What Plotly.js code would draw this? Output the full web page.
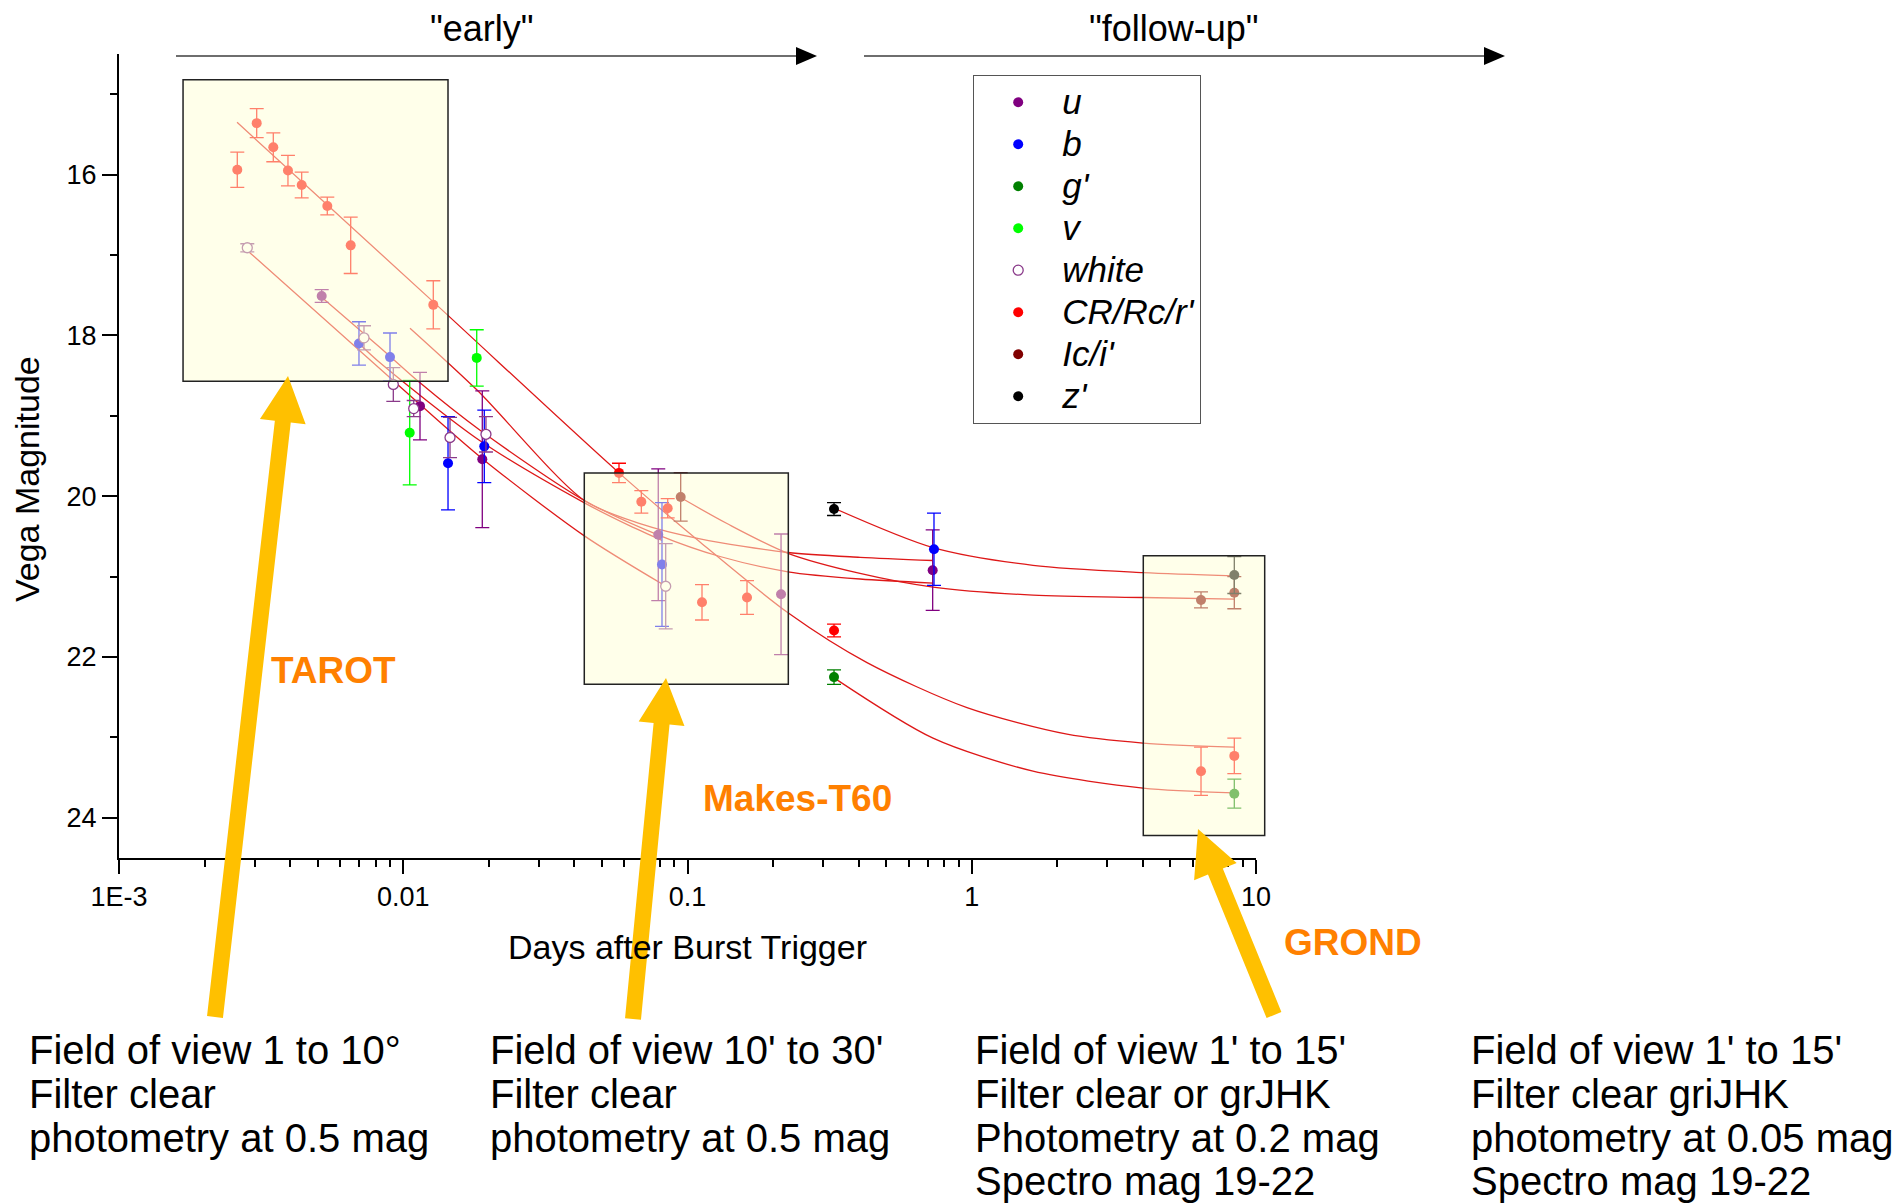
<!DOCTYPE html>
<html>
<head>
<meta charset="utf-8">
<script src="https://cdn.plot.ly/plotly-3.0.1.min.js"></script>
<style>
html,body{margin:0;padding:0;background:#ffffff;}
#chart{width:1903px;height:1203px;}
</style>
</head>
<body>
<div id="chart"></div>
<script>
// ---------------- DATA (days after trigger, Vega magnitude, 1-sigma error) ----------------
const u_t   = [0.005165, 0.011453, 0.018970, 0.07891, 0.21335, 0.72873];
const u_mag = [17.51, 18.88, 19.54, 20.48, 21.22, 20.92];
const u_err = [0.08, 0.42, 0.85, 0.82, 0.75, 0.50];

const b_t   = [0.006986, 0.008982, 0.014371, 0.019279, 0.08133, 0.73649];
const b_mag = [18.10, 18.27, 19.59, 19.38, 20.85, 20.66];
const b_err = [0.27, 0.30, 0.58, 0.45, 0.77, 0.45];

const g_t   = [0.32770, 8.3889];
const g_mag = [22.25, 23.70];
const g_err = [0.09, 0.18];

const v_t   = [0.010537, 0.018134];
const v_mag = [19.21, 18.28];
const v_err = [0.65, 0.35];

const w_t   = [0.002827, 0.007276, 0.009226, 0.010884, 0.014606, 0.019542, 0.08381];
const w_mag = [16.91, 18.03, 18.61, 18.91, 19.27, 19.23, 21.12];
const w_err = [0.05, 0.15, 0.21, 0.10, 0.25, 0.22, 0.53];

const r_t   = [0.002607, 0.003051, 0.003490, 0.003930, 0.004392, 0.005405, 0.006533, 0.012755,
               0.05741, 0.06880, 0.08518, 0.11246, 0.16194, 0.32770, 6.4054, 8.3889];
const r_mag = [15.94, 15.36, 15.66, 15.95, 16.13, 16.39, 16.88, 17.62,
               19.71, 20.07, 20.15, 21.32, 21.26, 21.67, 23.42, 23.23];
const r_err = [0.22, 0.18, 0.18, 0.19, 0.16, 0.11, 0.35, 0.30,
               0.12, 0.14, 0.12, 0.22, 0.21, 0.08, 0.30, 0.22];

const i_t   = [0.09464, 6.4054, 8.3889];
const i_mag = [20.01, 21.29, 21.20];
const i_err = [0.30, 0.10, 0.20];

const z_t   = [0.32770, 8.3889];
const z_mag = [20.16, 20.98];
const z_err = [0.08, 0.23];

// fitted light-curve models
const fitR_t = [0.002602, 0.012728, 0.057415, 0.11065, 0.22570, 0.42808, 0.96225, 2.1634, 4.0046, 8.3693];
const fitR_m = [15.35, 17.58, 19.71, 20.57, 21.45, 22.07, 22.63, 22.96, 23.07, 23.12];
const fitV_t = [0.010562, 0.018180, 0.043237, 0.068060, 0.11065, 0.22570, 0.40449, 0.73072];
const fitV_m = [17.91, 18.68, 20.05, 20.34, 20.53, 20.70, 20.76, 20.80];
const fitU_t = [0.005178, 0.008284, 0.011455, 0.018627, 0.043237, 0.078714, 0.13013, 0.22570, 0.40449, 0.73072];
const fitU_m = [17.53, 18.15, 18.59, 19.18, 20.05, 20.48, 20.75, 20.94, 21.03, 21.08];
const fitB_t = [0.006989, 0.008284, 0.018627, 0.043237, 0.062770, 0.081309];
const fitB_m = [18.10, 18.34, 19.31, 20.08, 20.37, 20.55];
const fitW_t = [0.002820, 0.011455, 0.018928, 0.043237, 0.083985];
const fitW_m = [16.94, 18.86, 19.53, 20.49, 21.12];
const fitI_t = [0.094868, 0.13770, 0.22570, 0.40449, 0.73072, 1.6427, 4.0046, 8.3693];
const fitI_m = [20.02, 20.34, 20.71, 20.96, 21.13, 21.23, 21.26, 21.28];
const fitZ_t = [0.32771, 0.73072, 1.6427, 4.0046, 8.3693];
const fitZ_m = [20.15, 20.64, 20.86, 20.95, 20.99];
const fitG_t = [0.32771, 0.73072, 1.6427, 4.0046, 8.3693];
const fitG_m = [22.26, 23.01, 23.42, 23.63, 23.69];

// axis ticks
const xMajorVals = [0.001, 0.01, 0.1, 1, 10];
const xMajorText = ['1E-3', '0.01', '0.1', '1', '10'];
const yMajorVals = [16, 18, 20, 22, 24];
const yMinorVals = [15, 17, 19, 21, 23];

// instrument windows (time range in days, magnitude range)
const boxNames = ['TAROT', 'Makes-T60', 'GROND'];
const boxT0 = [0.00168, 0.04334, 4.013];
const boxT1 = [0.01437, 0.2263, 10.73];
const boxM0 = [14.82, 19.71, 20.74];
const boxM1 = [18.57, 22.34, 24.22];

// notes under the chart
const noteCols = [
  ['Field of view 1 to 10°', 'Filter clear', 'photometry at 0.5 mag'],
  ["Field of view 10' to 30'", 'Filter clear', 'photometry at 0.5 mag'],
  ["Field of view 1' to 15'", 'Filter clear or grJHK', 'Photometry at 0.2 mag', 'Spectro mag 19-22'],
  ["Field of view 1' to 15'", 'Filter clear griJHK', 'photometry at 0.05 mag', 'Spectro mag 19-22']
];
const phaseLabels = ['"early"', '"follow-up"'];

// ---------------- LAYOUT GEOMETRY ----------------
const W = 1903, H = 1203;
const M = {l: 119, r: 647, t: 54, b: 345};
const plotW = W - M.l - M.r, plotH = H - M.t - M.b;
const XLOG = [-3, 1];
const px = x => (x - M.l) / plotW;          // pixel -> paper x
const py = y => (H - M.b - y) / plotH;      // pixel -> paper y
const xp = t => (Math.log10(t) - XLOG[0]) / (XLOG[1] - XLOG[0]); // data -> paper x

const FONT = 'Arial, "Liberation Sans", Helvetica, sans-serif';

// minor x ticks 2..9 per decade
const xMinorVals = [];
for (let d = -3; d < 1; d++) for (let k = 2; k <= 9; k++) xMinorVals.push(k * Math.pow(10, d));

// ---------------- TRACES ----------------
const fitColor = 'rgb(222,24,24)';
function fit(t, m) {
  return {x: t, y: m, type: 'scatter', mode: 'lines', showlegend: false, hoverinfo: 'skip',
          line: {color: fitColor, width: 1.3, shape: 'spline', smoothing: 0.8}};
}
function band(name, t, m, e, color, opts) {
  opts = opts || {};
  return {
    x: t, y: m, name: '<span style="font-size:35px"><i>' + name + '</i></span>', type: 'scatter', mode: 'markers',
    marker: Object.assign({color: color, size: 10, line: {width: 0}}, opts.marker || {}),
    error_y: {type: 'data', array: e, visible: true, color: opts.errColor || color, thickness: 1.3, width: 7}
  };
}

const traces = [
  fit(fitR_t, fitR_m), fit(fitV_t, fitV_m), fit(fitU_t, fitU_m), fit(fitB_t, fitB_m),
  fit(fitW_t, fitW_m), fit(fitI_t, fitI_m), fit(fitZ_t, fitZ_m), fit(fitG_t, fitG_m),
  band('u', u_t, u_mag, u_err, '#800080'),
  band('b', b_t, b_mag, b_err, '#0000ff'),
  band("g'", g_t, g_mag, g_err, '#008000'),
  band('v', v_t, v_mag, v_err, '#00ff00'),
  band('white', w_t, w_mag, w_err, '#ffffff',
       {marker: {color: '#ffffff', size: 10, line: {color: '#8a3a8a', width: 1.3}}, errColor: '#8a3a8a'}),
  band("CR/Rc/r'", r_t, r_mag, r_err, '#ff0000'),
  band("Ic/i'", i_t, i_mag, i_err, '#800000'),
  band("z'", z_t, z_mag, z_err, '#000000')
];

// ---------------- SHAPES ----------------
const shapes = [];
// instrument windows: translucent yellow veil drawn over the data
for (let k = 0; k < boxNames.length; k++) {
  shapes.push({type: 'rect', layer: 'above', xref: 'paper', yref: 'y',
    x0: xp(boxT0[k]), x1: xp(boxT1[k]), y0: boxM0[k], y1: boxM1[k],
    fillcolor: 'rgba(255,255,213,0.5)', line: {color: '#222', width: 1.5}});
}
function pathFrom(pts) {
  return 'M' + pts.map(p => px(p[0]).toFixed(5) + ',' + py(p[1]).toFixed(5)).join(' L') + ' Z';
}
// thick yellow arrows
function fatArrow(tx, ty, hx, hy, shaft, headW, headL) {
  const dx = hx - tx, dy = hy - ty, len = Math.hypot(dx, dy);
  const ux = dx / len, uy = dy / len, nx = -uy, ny = ux;
  const bx = hx - ux * headL, by = hy - uy * headL;
  const s = shaft / 2, h = headW / 2;
  const pts = [
    [tx + nx * s, ty + ny * s], [bx + nx * s, by + ny * s], [bx + nx * h, by + ny * h],
    [hx, hy],
    [bx - nx * h, by - ny * h], [bx - nx * s, by - ny * s], [tx - nx * s, ty - ny * s]
  ];
  return {type: 'path', layer: 'above', xref: 'paper', yref: 'paper', path: pathFrom(pts),
          fillcolor: '#ffc000', line: {width: 0}};
}
shapes.push(fatArrow(215, 1017, 288, 376, 16, 46, 46));
shapes.push(fatArrow(633, 1019, 666, 678, 16, 46, 46));
shapes.push(fatArrow(1274, 1015, 1198, 829, 16, 46, 46));
// phase arrows on top
function phaseArrow(x0, x1, y) {
  shapes.push({type: 'line', layer: 'above', xref: 'paper', yref: 'paper',
    x0: px(x0), x1: px(x1 - 20), y0: py(y), y1: py(y), line: {color: '#6e6e6e', width: 2}});
  shapes.push({type: 'path', layer: 'above', xref: 'paper', yref: 'paper',
    path: pathFrom([[x1 - 21, y - 9], [x1, y], [x1 - 21, y + 9]]), fillcolor: '#000', line: {width: 0}});
}
phaseArrow(176, 817, 56);
phaseArrow(864, 1505, 56);

// ---------------- ANNOTATIONS ----------------
const annotations = [];
// y axis title (placed like the original, slightly below the plot centre)
annotations.push({xref: 'paper', yref: 'paper', x: px(27), y: py(479), text: 'Vega Magnitude', showarrow: false,
  textangle: -90, xanchor: 'center', yanchor: 'middle', font: {family: FONT, size: 34, color: '#000'}});
annotations.push({xref: 'paper', yref: 'paper', x: px(482), y: py(28), text: phaseLabels[0], showarrow: false,
  xanchor: 'center', yanchor: 'middle', font: {family: FONT, size: 36, color: '#000'}});
annotations.push({xref: 'paper', yref: 'paper', x: px(1174), y: py(28), text: phaseLabels[1], showarrow: false,
  xanchor: 'center', yanchor: 'middle', font: {family: FONT, size: 36, color: '#000'}});
const labelPos = [[333, 670], [797, 798], [1353, 942]];
for (let k = 0; k < boxNames.length; k++) {
  annotations.push({xref: 'paper', yref: 'paper', x: px(labelPos[k][0]), y: py(labelPos[k][1]),
    text: '<b>' + boxNames[k] + '</b>', showarrow: false, xanchor: 'center', yanchor: 'middle',
    font: {family: FONT, size: 37, color: '#ff8000'}});
}
const noteX = [27, 488, 973, 1469];
const noteY = [1050, 1094, 1138, 1181];
for (let c = 0; c < noteCols.length; c++) {
  for (let r = 0; r < noteCols[c].length; r++) {
    annotations.push({xref: 'paper', yref: 'paper', x: px(noteX[c]), y: py(noteY[r]),
      text: noteCols[c][r], showarrow: false, xanchor: 'left', yanchor: 'middle',
      font: {family: FONT, size: 40, color: '#000'}});
  }
}

// ---------------- LAYOUT ----------------
const layout = {
  width: W, height: H,
  margin: M,
  paper_bgcolor: '#ffffff', plot_bgcolor: 'rgba(0,0,0,0)',
  font: {family: FONT, color: '#000'},
  showlegend: true,
  legend: {
    x: px(973), y: py(75), xanchor: 'left', yanchor: 'top',
    bgcolor: '#ffffff', bordercolor: '#555', borderwidth: 1.2,
    font: {family: FONT, size: 30, color: '#000'},
    itemwidth: 78, tracegroupgap: 0
  },
  xaxis: {
    type: 'log', range: XLOG,
    showgrid: false, zeroline: false,
    showline: true, linecolor: '#000', linewidth: 2,
    ticks: 'outside', ticklen: 14, tickwidth: 2, tickcolor: '#000',
    tickmode: 'array', tickvals: xMajorVals, ticktext: xMajorText,
    tickfont: {family: FONT, size: 27, color: '#000'},
    minor: {tickmode: 'array', tickvals: xMinorVals, ticks: 'outside', ticklen: 7, tickwidth: 2, tickcolor: '#000', showgrid: false},
    title: {text: 'Days after Burst Trigger', font: {family: FONT, size: 34, color: '#000'}, standoff: 24}
  },
  yaxis: {
    range: [24.5, 14.5],
    showgrid: false, zeroline: false,
    showline: true, linecolor: '#000', linewidth: 2,
    ticks: 'outside', ticklen: 15, tickwidth: 2, tickcolor: '#000',
    tickmode: 'array', tickvals: yMajorVals,
    tickfont: {family: FONT, size: 27, color: '#000'},
    minor: {tickmode: 'array', tickvals: yMinorVals, ticks: 'outside', ticklen: 7, tickwidth: 2, tickcolor: '#000', showgrid: false}
  },
  shapes: shapes,
  annotations: annotations
};

Plotly.newPlot('chart', traces, layout, {displayModeBar: false, staticPlot: true});
</script>
</body>
</html>
